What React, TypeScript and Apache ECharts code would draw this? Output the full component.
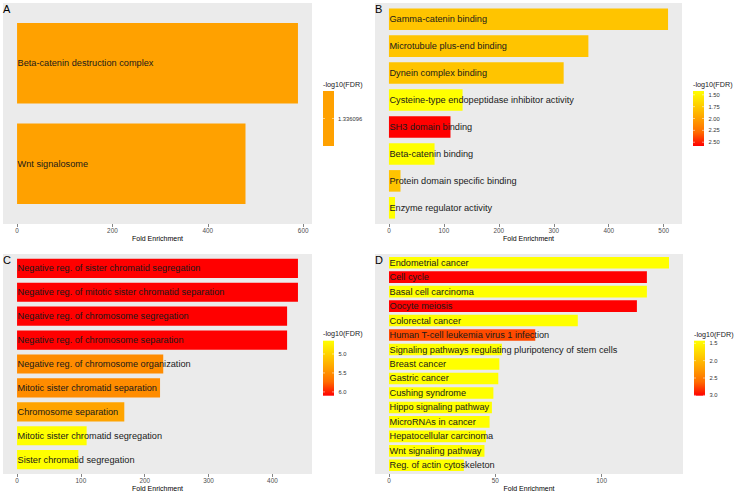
import React, { useEffect, useRef } from "react";
import * as echarts from "echarts";

// ---------- data ----------
const catsA = ["Beta-catenin destruction complex", "Wnt signalosome"];
const foldA = [589, 479];
const fdrA = [1.336096, 1.336096];
const ticksA = [0, 200, 400, 600];

const catsB = [
  "Gamma-catenin binding",
  "Microtubule plus-end binding",
  "Dynein complex binding",
  "Cysteine-type endopeptidase inhibitor activity",
  "SH3 domain binding",
  "Beta-catenin binding",
  "Protein domain specific binding",
  "Enzyme regulator activity",
];
const foldB = [508, 363, 318, 134, 112, 83, 21, 11];
const fdrB = [1.79, 1.79, 1.79, 1.42, 2.58, 1.42, 1.79, 1.42];
const ticksB = [0, 100, 200, 300, 400, 500];
const legLabelsB = ["1.50", "1.75", "2.00", "2.25", "2.50"];

const catsC = [
  "Negative reg. of sister chromatid segregation",
  "Negative reg. of mitotic sister chromatid separation",
  "Negative reg. of chromosome segregation",
  "Negative reg. of chromosome separation",
  "Negative reg. of chromosome organization",
  "Mitotic sister chromatid separation",
  "Chromosome separation",
  "Mitotic sister chromatid segregation",
  "Sister chromatid segregation",
];
const foldC = [440, 440, 423, 423, 229, 224, 168, 109, 96];
const fdrC = [6.1, 6.1, 6.1, 6.1, 5.52, 5.52, 5.35, 4.65, 4.65];
const ticksC = [0, 100, 200, 300, 400];
const legLabelsC = ["5.0", "5.5", "6.0"];

const catsD = [
  "Endometrial cancer",
  "Cell cycle",
  "Basal cell carcinoma",
  "Oocyte meiosis",
  "Colorectal cancer",
  "Human T-cell leukemia virus 1 infection",
  "Signaling pathways regulating pluripotency of stem cells",
  "Breast cancer",
  "Gastric cancer",
  "Cushing syndrome",
  "Hippo signaling pathway",
  "MicroRNAs in cancer",
  "Hepatocellular carcinoma",
  "Wnt signaling pathway",
  "Reg. of actin cytoskeleton",
];
const foldD = [131.7, 121.3, 121.3, 116.6, 88.8, 68.8, 53.1, 51.9, 51.4, 49.1, 48.4, 47.3, 45.6, 44.9, 35.2];
const fdrD = [1.425, 3.01, 1.425, 3.01, 1.425, 2.74, 1.425, 1.425, 1.425, 1.425, 1.425, 1.425, 1.425, 1.425, 1.425];
const ticksD = [0, 50, 100];
const legLabelsD = ["1.5", "2.0", "2.5", "3.0"];

const gradColors = ["#FFFF00", "#FFD100", "#FFA100", "#FF6C00", "#FF0000"];
const FONT = "Liberation Sans, Arial, Helvetica, sans-serif";

type Panel = {
  letter: string;
  cats: string[];
  fold: number[];
  fdr: number[];
  ticks: number[];
  legLabels: string[] | null;
  px: number; py: number; pw: number; ph: number;
  lx: number; ltitleY: number; lbarTop: number; lbarH: number;
};

const panels: Panel[] = [
  { letter: "A", cats: catsA, fold: foldA, fdr: fdrA, ticks: ticksA, legLabels: null,
    px: 3, py: 3, pw: 309, ph: 221, lx: 323, ltitleY: 84, lbarTop: 91, lbarH: 55 },
  { letter: "B", cats: catsB, fold: foldB, fdr: fdrB, ticks: ticksB, legLabels: legLabelsB,
    px: 375, py: 3, pw: 307, ph: 221, lx: 693, ltitleY: 84, lbarTop: 91, lbarH: 55 },
  { letter: "C", cats: catsC, fold: foldC, fdr: fdrC, ticks: ticksC, legLabels: legLabelsC,
    px: 3, py: 254, pw: 309, ph: 220, lx: 323, ltitleY: 333, lbarTop: 340.7, lbarH: 55 },
  { letter: "D", cats: catsD, fold: foldD, fdr: fdrD, ticks: ticksD, legLabels: legLabelsD,
    px: 375, py: 254, pw: 308, ph: 220, lx: 694, ltitleY: 334, lbarTop: 340.7, lbarH: 55 },
];

function buildOption() {
  const grids: any[] = [];
  const xAxes: any[] = [];
  const yAxes: any[] = [];
  const series: any[] = [];
  const visualMaps: any[] = [];
  const graphics: any[] = [];

  panels.forEach((p, i) => {
    const n = p.cats.length;
    const u = p.ph / (n + 0.2);
    const maxV = Math.max(...p.fold);
    let vmin = Math.min(...p.fdr);
    let vmax = Math.max(...p.fdr);
    const single = vmin === vmax;
    if (single) { vmin -= 1; vmax += 1; }

    // panel background
    graphics.push({
      type: "rect", z: 0, silent: true,
      shape: { x: p.px, y: p.py, width: p.pw, height: p.ph },
      style: { fill: "#EBEBEB" },
    });
    // panel letter
    graphics.push({
      type: "text", z: 10, x: p.px, y: p.py + 5.5,
      style: { text: p.letter, font: `11px ${FONT}`, fill: "#000", textVerticalAlign: "middle" },
    });

    grids.push({ left: p.px, top: p.py + 0.1 * u, width: p.pw, height: n * u, containLabel: false });

    xAxes.push({
      type: "value", gridIndex: i,
      min: -0.05 * maxV, max: 1.05 * maxV,
      offset: 0.1 * u,
      axisLine: { show: false },
      splitLine: { show: false },
      axisTick: { show: true, customValues: p.ticks, length: 3, lineStyle: { color: "#333333", width: 0.6 } },
      axisLabel: { show: true, customValues: p.ticks, fontSize: 6.4, color: "#4D4D4D", margin: 3.5, fontFamily: FONT },
      name: "Fold Enrichment", nameLocation: "middle", nameGap: 10.5,
      nameTextStyle: { fontSize: 7, color: "#000", fontFamily: FONT },
    });

    yAxes.push({
      type: "category", gridIndex: i, inverse: true, data: p.cats,
      axisLine: { show: false }, axisTick: { show: false }, axisLabel: { show: false },
      splitLine: { show: false },
    });

    series.push({
      type: "bar", xAxisIndex: i, yAxisIndex: i,
      barCategoryGap: "20%",
      encode: { x: 0, y: 1 },
      data: p.cats.map((c, k) => [p.fold[k], c, p.fdr[k]]),
      label: {
        show: true, position: "insideLeft", distance: 0.5,
        formatter: (params: any) => params.value[1],
        fontSize: 9.2, color: "#1A1A1A", fontFamily: FONT,
      },
      z: 2,
    });

    visualMaps.push({
      type: "continuous", show: false, seriesIndex: i, dimension: 2,
      min: vmin, max: vmax, inRange: { color: gradColors },
    });

    // legend
    graphics.push({
      type: "text", z: 10, x: p.lx, y: p.ltitleY,
      style: { text: "-log10(FDR)", font: `7.2px ${FONT}`, fill: "#1A1A1A", textVerticalAlign: "middle" },
    });
    const barW = 11;
    if (single) {
      graphics.push({
        type: "rect", z: 10,
        shape: { x: p.lx, y: p.lbarTop, width: barW, height: p.lbarH },
        style: { fill: gradColors[2] },
      });
      const yy = p.lbarTop + p.lbarH / 2;
      graphics.push({ type: "line", z: 11, shape: { x1: p.lx, y1: yy, x2: p.lx + 2, y2: yy }, style: { stroke: "#fff", lineWidth: 0.5 } });
      graphics.push({ type: "line", z: 11, shape: { x1: p.lx + barW - 2, y1: yy, x2: p.lx + barW, y2: yy }, style: { stroke: "#fff", lineWidth: 0.5 } });
      graphics.push({
        type: "text", z: 10, x: p.lx + barW + 4, y: yy,
        style: { text: String(p.fdr[0]), font: `5.8px ${FONT}`, fill: "#333", textVerticalAlign: "middle" },
      });
    } else {
      graphics.push({
        type: "rect", z: 10,
        shape: { x: p.lx, y: p.lbarTop, width: barW, height: p.lbarH },
        style: {
          fill: new echarts.graphic.LinearGradient(0, 0, 0, 1,
            gradColors.map((c, k) => ({ offset: k / (gradColors.length - 1), color: c }))),
        },
      });
      (p.legLabels || []).forEach((lab) => {
        const v = parseFloat(lab);
        const yy = p.lbarTop + ((v - vmin) / (vmax - vmin)) * p.lbarH;
        graphics.push({ type: "line", z: 11, shape: { x1: p.lx, y1: yy, x2: p.lx + 2, y2: yy }, style: { stroke: "#fff", lineWidth: 0.5 } });
        graphics.push({ type: "line", z: 11, shape: { x1: p.lx + barW - 2, y1: yy, x2: p.lx + barW, y2: yy }, style: { stroke: "#fff", lineWidth: 0.5 } });
        graphics.push({
          type: "text", z: 10, x: p.lx + barW + 4.5, y: yy,
          style: { text: lab, font: `5.8px ${FONT}`, fill: "#333", textVerticalAlign: "middle" },
        });
      });
    }
  });

  return {
    animation: false,
    backgroundColor: "#FFFFFF",
    grid: grids,
    xAxis: xAxes,
    yAxis: yAxes,
    visualMap: visualMaps,
    series,
    graphic: { elements: graphics },
  };
}

export default function App() {
  const ref = useRef<HTMLDivElement>(null);
  useEffect(() => {
    if (!ref.current) return;
    const chart = echarts.init(ref.current, null, { renderer: "svg" });
    chart.setOption(buildOption() as any);
    return () => chart.dispose();
  }, []);
  return (
    <div
      ref={ref}
      style={{ position: "fixed", left: 0, top: 0, width: 736, height: 495, background: "#fff" }}
    />
  );
}
